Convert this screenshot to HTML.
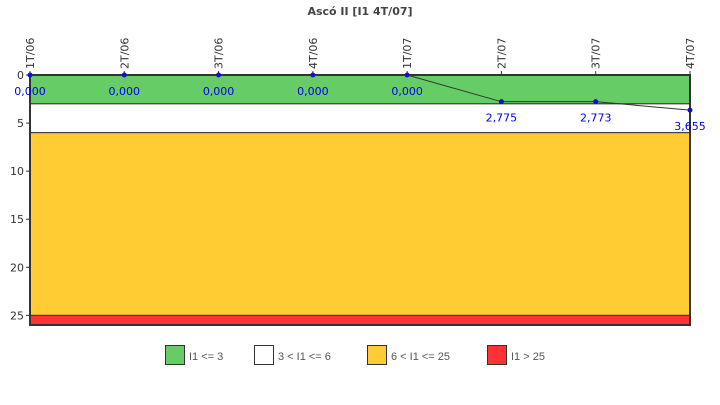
<!DOCTYPE html>
<html><head><meta charset="utf-8"><style>
body{margin:0;background:#fff;width:720px;height:400px;overflow:hidden}
svg{font-family:"DejaVu Sans","Liberation Sans",sans-serif}
</style></head><body>
<svg width="720" height="400" id="svg">
<text x="360" y="15" text-anchor="middle" font-size="11" font-weight="bold" fill="#444" font-family="DejaVu Sans">Ascó II [I1 4T/07]</text>
<g id="bands"></g>
<g id="yaxis"></g>
<g id="xaxis"></g>
<g id="series"></g>
<g id="legend"></g>
</svg>
<script>
const categories=["1T/06","2T/06","3T/06","4T/06","1T/07","2T/07","3T/07","4T/07"];
const values=[0,0,0,0,0,2.775,2.773,3.655];
const yTicks=[0,5,10,15,20,25];
const bandStarts=[0,3,6,25];
const bandEnds=[3,6,25,26];
const bandColors=["#66cc66","#ffffff","#ffcc33","#ff3333"];
const legendLabels=["I1 <= 3","3 < I1 <= 6","6 < I1 <= 25","I1 > 25"];
const NS="http://www.w3.org/2000/svg";
const X0=30,X1=690,Y0=75,Y1=325,YMAX=26;
const x=i=>X0+i*(X1-X0)/(categories.length-1);
const y=v=>Y0+v*(Y1-Y0)/YMAX;
function mk(t,a,p){const e=document.createElementNS(NS,t);for(const k in a)e.setAttribute(k,a[k]);p.appendChild(e);return e;}
const bands=document.getElementById('bands');
bandStarts.forEach((s,i)=>{
 const r=mk('rect',{x:X0,y:y(s),width:X1-X0,height:y(bandEnds[i])-y(s),fill:bandColors[i],stroke:'#333','stroke-width':1},bands);
 
 
});
mk('rect',{x:X0,y:Y0,width:X1-X0,height:Y1-Y0,fill:'none',stroke:'#333','stroke-width':2},bands);
const ya=document.getElementById('yaxis');
yTicks.forEach(t=>{
 mk('line',{x1:X0-4,x2:X0,y1:y(t),y2:y(t),stroke:'#333'},ya);
 const tx=mk('text',{x:X0-6,y:y(t)+4,'text-anchor':'end','font-size':11,fill:'#333'},ya);
 tx.textContent=t;
 
 
});
const xa=document.getElementById('xaxis');
categories.forEach((c,i)=>{
 mk('line',{x1:x(i),x2:x(i),y1:Y0-4,y2:Y0,stroke:'#333'},xa);
 const tx=mk('text',{x:0,y:0,'font-size':11,fill:'#333',transform:`translate(${x(i)+4},${Y0-6}) rotate(-90)`},xa);
 tx.textContent=c;
 
 
});
const se=document.getElementById('series');
const pl=mk('polyline',{points:values.map((v,i)=>x(i)+','+y(v)).join(' '),fill:'none',stroke:'#333','stroke-width':1},se);


values.forEach((v,i)=>{
 const c=mk('circle',{cx:x(i),cy:y(v),r:2.5,fill:'#1010cc'},se);
 
 
 const tx=mk('text',{x:x(i),y:y(v)+20,'text-anchor':'middle','font-size':11,fill:'#0000ee'},se);
 tx.textContent=v.toFixed(3).replace('.',',');
 
 
});
const lg=document.getElementById('legend');
const lx=[165,254,367,487];
legendLabels.forEach((l,i)=>{
 const r=mk('rect',{x:lx[i]+0.5,y:345.5,width:19,height:19,fill:bandColors[i],stroke:'#333'},lg);
 
 
 const tx=mk('text',{x:lx[i]+24,y:360,'font-size':11,fill:'#555','font-family':'Liberation Sans'},lg);
 tx.textContent=l;
 
 
});
</script>
</body></html>
